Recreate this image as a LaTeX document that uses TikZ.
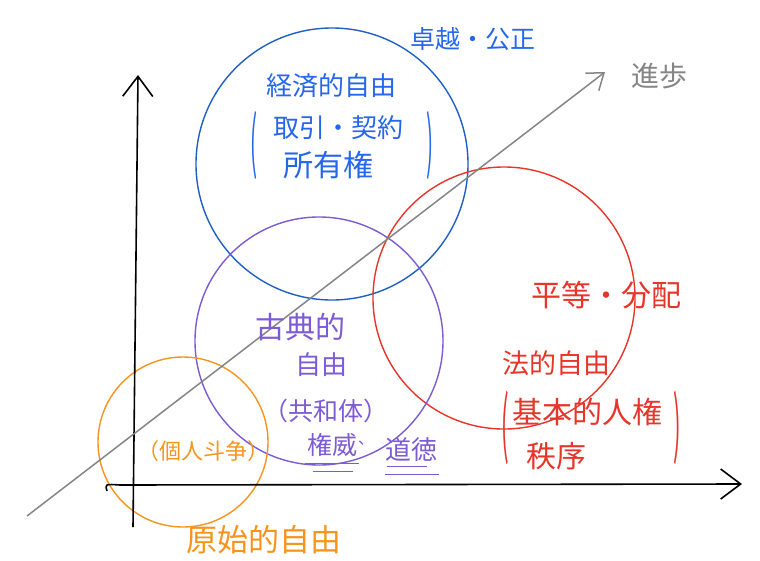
\documentclass[tikz,border=0pt]{standalone}
\usepackage{fontspec}
\usepackage{graphicx}
\usetikzlibrary{arrows.meta}

\newfontfamily\jpfont{Noto Sans CJK JP}
\newcommand{\tallparen}[1]{\scalebox{0.8}[2.6]{#1}}

\definecolor{econblue}{HTML}{1F5FC4}
\definecolor{econtext}{HTML}{2566EE}
\definecolor{legalred}{HTML}{E8352A}
\definecolor{classpurple}{HTML}{7D5BD3}
\definecolor{primorange}{HTML}{F7941D}
\definecolor{proggrey}{HTML}{858585}

\begin{document}
\begin{tikzpicture}[x=1pt,y=-1pt,
    lbl/.style={font=\jpfont\fontsize{#1}{#1}\selectfont, inner sep=0pt},
    lbl/.default=24,
    zone/.style={circle, draw, line width=1.4pt, inner sep=0pt},
    barb/.style={-{Straight Barb[length=20pt,width=30pt]}}]

\useasboundingbox (0,0) rectangle (760,560);

% the four kinds of freedom
\node[zone, econblue,    minimum size=272pt] (econ)  at (332,164) {};
\node[zone, legalred,    minimum size=262pt] (legal) at (504,298) {};
\node[zone, classpurple, minimum size=248pt] (class) at (319,341) {};
\node[zone, primorange,  minimum size=170pt] (prim)  at (183,442) {};

% axes
\coordinate (ybot) at (133,527);
\coordinate (ytop) at (138,75);
\coordinate (xleft) at (107,491);
\coordinate (xright) at (742,484);
\coordinate (dlow) at (27,516);
\coordinate (dhigh) at (605,72);

\draw[line width=1.6pt, barb] (ybot) -- (ytop);
\draw[line width=1.6pt, barb] (xleft) .. controls (105,484) .. (120,485) -- (xright);
\draw[line width=1.5pt, proggrey, -{Straight Barb[length=15pt,width=22pt]}] (dlow) -- (dhigh);

% labels
\node[lbl=25, econtext] (excel) at (473,39) {卓越・公正};
\node[lbl=28, proggrey] (prog) at (659,76) {進歩};

\node[lbl=26, econtext] (econa) at (331,86) {経済的自由};
\node[lbl=26, econtext] (econb) at (338,128) {取引・契約};
\node[lbl=30, econtext] (econc) at (328,165) {所有権};
\node[lbl=26, econtext] (econl) at (254,145) {\tallparen{(}};
\node[lbl=26, econtext] (econr) at (430,145) {\tallparen{)}};

\node[lbl=30, legalred] (equal) at (606,295) {平等・分配};
\node[lbl=27, legalred] (legala) at (556,363) {法的自由};
\node[lbl=30, legalred] (legalb) at (587,412) {基本的人権};
\node[lbl=30, legalred] (legalc) at (556,456) {秩序};
\node[lbl=28, legalred] (legall) at (505,428) {\tallparen{(}};
\node[lbl=28, legalred] (legalr) at (677,428) {\tallparen{)}};

\node[lbl=30, classpurple] (classa) at (300,327) {古典的};
\node[lbl=26, classpurple] (classb) at (321,365) {自由};
\node[lbl=25, classpurple] (classc) at (326,411) {（共和体）};
\node[lbl=25, classpurple] (auth) at (332,445) {権威};
\node[lbl=16, classpurple] (sep) at (366,443) {、};
\node[lbl=26, classpurple] (moral) at (411,450) {道徳};

\draw[classpurple, line width=1.3pt]
  ([xshift=-2pt,yshift=-7pt]auth.south west) -- ([xshift=2pt,yshift=-7pt]auth.south east);
\draw[classpurple, line width=1.3pt]
  ([xshift=6pt,yshift=-15pt]auth.south west) -- ([xshift=-4pt,yshift=-15pt]auth.south east);
\draw[classpurple, line width=1.3pt]
  ([xshift=2pt,yshift=-4pt]moral.south west) -- ([xshift=-10pt,yshift=-4pt]moral.south east);
\draw[classpurple, line width=1.3pt]
  ([xshift=0pt,yshift=-12pt]moral.south west) -- ([xshift=2pt,yshift=-12pt]moral.south east);

\node[lbl=22, primorange] (indiv) at (203,451) {（個人斗争）};
\node[lbl=31, primorange] (prima) at (264,540) {原始的自由};

\end{tikzpicture}
\end{document}
